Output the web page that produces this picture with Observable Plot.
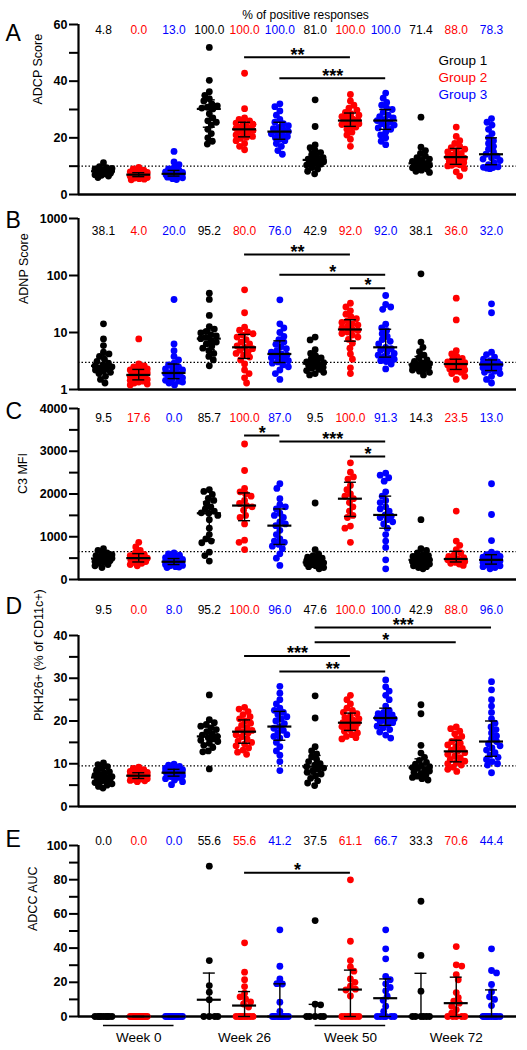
<!DOCTYPE html>
<html><head><meta charset="utf-8">
<script src="https://cdn.jsdelivr.net/npm/d3@7"></script>
<script src="https://cdn.jsdelivr.net/npm/@observablehq/plot@0.6"></script>
<style>
body{margin:0;background:#fff;}
#chart{width:527px;}
#chart svg{display:block;overflow:visible;}
</style></head><body><div id="chart"></div>
<script>
// ---------- categories ----------
const weeks = ["Week 0", "Week 26", "Week 50", "Week 72"];
const groups = ["Group 1", "Group 2", "Group 3"];
const groupColors = ["#000000", "#ff0000", "#0000ff"];
const underlinedWeeks = ["Week 0", "Week 50"];

// ---------- Panel A: ADCP Score (order: W0 G1,G2,G3, W26 G1..., W50..., W72...) ----------
const adcpValues = [
  [11.2, 9.8, 9.5, 9.2, 9.0, 8.8, 8.7, 8.5, 8.4, 8.3, 8.2, 8.1, 8.0, 7.9, 7.7, 7.5, 7.3, 7.0, 6.8, 6.5, 6.0],
  [9.6, 9.0, 8.6, 8.3, 8.0, 7.8, 7.6, 7.5, 7.3, 7.2, 7.1, 7.0, 7.0, 6.9, 6.8, 6.7, 6.6, 6.5, 6.4, 6.2, 6.0, 5.8, 5.6, 5.4, 5.2],
  [15.2, 11.5, 10.5, 9.5, 9.0, 8.5, 8.2, 8.0, 7.8, 7.6, 7.4, 7.3, 7.2, 7.0, 6.9, 6.8, 6.6, 6.5, 6.3, 6.1, 5.9, 5.6, 5.3],
  [51.9, 40.3, 36.3, 35.0, 33.8, 33.0, 32.0, 31.3, 30.8, 30.5, 30.2, 28.5, 27.0, 26.0, 25.5, 24.5, 23.0, 21.5, 20.0, 18.8, 17.8],
  [42.8, 30.3, 27.0, 26.5, 26.0, 25.8, 25.2, 24.8, 24.3, 23.8, 23.5, 23.3, 23.0, 22.6, 22.2, 21.8, 21.5, 21.0, 20.5, 20.2, 19.8, 19.0, 18.0, 17.0, 15.8],
  [32.0, 31.0, 29.5, 28.0, 26.5, 25.5, 25.0, 24.3, 23.7, 23.2, 22.7, 22.2, 21.8, 21.4, 21.0, 20.5, 20.0, 19.5, 19.0, 18.0, 17.0, 15.5, 14.2],
  [33.4, 24.0, 17.5, 16.5, 15.5, 14.8, 14.0, 13.5, 13.0, 12.5, 12.2, 12.0, 11.6, 11.2, 11.0, 10.7, 10.4, 9.5, 9.0, 8.2, 7.3],
  [35.3, 33.0, 31.5, 30.5, 29.8, 29.0, 28.5, 28.0, 27.5, 27.0, 26.6, 26.3, 26.1, 25.8, 25.5, 25.2, 25.0, 24.7, 24.3, 23.8, 23.0, 22.0, 21.0, 19.5, 17.0],
  [35.8, 34.0, 32.5, 31.5, 30.5, 30.0, 29.0, 28.0, 27.5, 27.0, 26.5, 26.1, 25.5, 25.0, 24.5, 24.0, 23.5, 23.0, 22.0, 21.0, 20.0, 18.8, 17.6],
  [27.3, 16.7, 15.5, 14.5, 13.5, 13.0, 12.5, 12.0, 11.7, 11.3, 11.0, 10.8, 10.5, 10.3, 10.1, 9.8, 9.4, 9.0, 8.6, 8.2, 7.8],
  [23.8, 20.5, 19.0, 18.0, 17.0, 16.5, 16.0, 15.5, 15.0, 14.5, 14.0, 13.6, 13.2, 12.8, 12.4, 12.0, 11.6, 11.2, 10.8, 10.5, 10.3, 10.1, 9.2, 8.0, 6.5],
  [26.8, 25.5, 24.5, 23.0, 21.5, 20.0, 19.0, 18.0, 17.0, 16.0, 15.0, 14.2, 13.5, 13.0, 12.5, 12.0, 11.2, 10.5, 9.8, 9.6, 9.5, 9.3, 9.1]
];
const adcpPct = [4.8, 0.0, 13.0, 100.0, 100.0, 100.0, 81.0, 100.0, 100.0, 71.4, 88.0, 78.3];
const adcpSig = [[4, 7, 48.4, "**"], [5, 8, 41, "***"]];
const adcpMajorTicks = [0, 20, 40, 60];
const adcpMinorTicks = [10, 30, 50];

// ---------- Panel B: ADNP Score ----------
const adnpValues = [
  [14.2, 7.7, 5.9, 4.5, 4.2, 3.8, 3.4, 3.1, 2.9, 2.7, 2.6, 2.5, 2.4, 2.3, 2.2, 2.1, 2.0, 1.9, 1.7, 1.5, 1.3],
  [7.7, 2.8, 2.6, 2.5, 2.4, 2.3, 2.2, 2.1, 2.0, 1.95, 1.9, 1.85, 1.8, 1.75, 1.7, 1.65, 1.6, 1.55, 1.5, 1.45, 1.4, 1.35, 1.3, 1.25, 1.2],
  [37.9, 6.3, 4.8, 3.8, 3.3, 2.9, 2.7, 2.5, 2.4, 2.3, 2.2, 2.1, 1.95, 1.9, 1.85, 1.8, 1.75, 1.7, 1.6, 1.5, 1.45, 1.4, 1.35, 1.3, 1.2],
  [49, 38, 19.9, 12.7, 11.5, 10.5, 9.8, 9.2, 8.7, 8.2, 7.8, 7.3, 6.8, 6.3, 5.8, 5.3, 4.8, 4.3, 3.8, 3.3, 2.6],
  [56, 22.2, 12.4, 11.0, 10.2, 9.5, 9.0, 8.3, 7.5, 6.8, 6.3, 5.8, 5.5, 5.2, 4.9, 4.6, 4.3, 4.0, 3.7, 3.3, 2.8, 2.2, 1.9, 1.6, 1.3],
  [37.4, 14.2, 12.0, 10.0, 8.5, 7.5, 6.8, 6.2, 5.6, 5.2, 4.8, 4.5, 4.2, 4.0, 3.8, 3.6, 3.4, 3.2, 3.05, 2.9, 2.7, 2.5, 2.2, 1.9, 1.5],
  [8.3, 7.4, 5.0, 4.3, 3.9, 3.6, 3.4, 3.2, 3.05, 2.95, 2.85, 2.75, 2.65, 2.55, 2.45, 2.35, 2.25, 2.15, 2.0, 1.9, 1.8],
  [32.6, 28, 24, 21, 19, 17.5, 16, 15, 14.2, 13.5, 12.8, 12.0, 11.3, 10.8, 10.2, 9.6, 9.0, 8.3, 7.6, 6.5, 5.3, 4.2, 3.4, 2.4, 1.9],
  [44.6, 31, 28, 25.5, 14, 12, 10.8, 9.5, 8.5, 7.5, 7.0, 6.3, 5.5, 5.2, 4.9, 4.6, 4.3, 4.0, 3.8, 3.6, 3.4, 3.2, 3.1, 2.8, 2.3],
  [107, 6.8, 5.5, 4.6, 4.0, 3.6, 3.3, 3.1, 2.95, 2.85, 2.75, 2.7, 2.6, 2.5, 2.45, 2.4, 2.3, 2.2, 2.1, 2.0, 1.8],
  [40, 16.6, 4.8, 4.2, 3.8, 3.5, 3.3, 3.15, 3.05, 2.95, 2.9, 2.85, 2.8, 2.75, 2.7, 2.6, 2.5, 2.4, 2.3, 2.2, 2.1, 2.0, 1.9, 1.7, 1.5],
  [31.8, 22.2, 4.5, 4.1, 3.7, 3.4, 3.2, 3.05, 2.95, 2.9, 2.85, 2.8, 2.75, 2.7, 2.6, 2.5, 2.4, 2.3, 2.2, 2.1, 2.0, 1.9, 1.7, 1.5, 1.3]
];
const adnpPct = [38.1, 4.0, 20.0, 95.2, 80.0, 76.0, 42.9, 92.0, 92.0, 38.1, 36.0, 32.0];
const adnpSig = [[4, 7, 233, "**"], [5, 8, 103, "*"], [7, 8, 60, "*"]];
const adnpMajorTicks = [1, 10, 100, 1000];
const adnpMinorTicks = [];

// ---------- Panel C: C3 MFI ----------
const c3Values = [
  [720, 680, 620, 600, 580, 560, 540, 520, 510, 500, 490, 480, 470, 460, 440, 420, 400, 380, 350, 320, 280],
  [870, 760, 680, 620, 590, 560, 530, 510, 500, 480, 460, 440, 420, 400, 380, 350, 320],
  [620, 600, 570, 540, 510, 490, 470, 450, 440, 430, 420, 415, 410, 400, 390, 380, 370, 350, 330, 320, 300, 290, 280],
  [2100, 2060, 1990, 1900, 1850, 1780, 1700, 1650, 1600, 1560, 1550, 1500, 1400, 1200, 1050, 950, 900, 860, 640, 560, 430],
  [3170, 2550, 2130, 2050, 2000, 1950, 1850, 1780, 1730, 1700, 1620, 1500, 1450, 1300, 920, 870, 700],
  [2240, 2130, 1890, 1750, 1700, 1650, 1550, 1500, 1450, 1350, 1300, 1260, 1150, 1050, 950, 900, 870, 820, 780, 720, 600, 500, 330],
  [1790, 700, 600, 560, 520, 500, 480, 460, 440, 420, 400, 390, 380, 370, 360, 350, 340, 320, 300, 280, 250],
  [2730, 2510, 2400, 2350, 2200, 2100, 2000, 1950, 1890, 1800, 1700, 1600, 1500, 1450, 1250, 1200, 870],
  [2490, 2440, 2380, 2300, 2050, 1950, 1850, 1800, 1700, 1650, 1600, 1510, 1480, 1450, 1400, 1350, 1300, 1200, 1050, 900, 750, 460, 250],
  [1400, 720, 680, 620, 580, 560, 540, 520, 500, 480, 460, 440, 420, 400, 380, 360, 340, 320, 300, 280, 250],
  [1600, 900, 800, 700, 620, 580, 540, 510, 480, 470, 460, 440, 420, 400, 380, 360, 330],
  [2240, 1520, 910, 640, 600, 580, 560, 540, 520, 500, 480, 460, 450, 440, 420, 400, 380, 360, 340, 320, 300, 280, 250]
];
const c3Pct = [9.5, 17.6, 0.0, 85.7, 100.0, 87.0, 9.5, 100.0, 91.3, 14.3, 23.5, 13.0];
const c3Sig = [[4, 5, 3368, "*"], [5, 8, 3228, "***"], [7, 8, 2877, "*"]];
const c3MajorTicks = [0, 1000, 2000, 3000, 4000];
const c3MinorTicks = [500, 1500, 2500, 3500];

// ---------- Panel D: PKH26+ (% of CD11c+) ----------
const pkhValues = [
  [10.2, 9.8, 9.3, 8.9, 8.5, 8.1, 7.8, 7.5, 7.3, 7.0, 6.8, 6.6, 6.4, 6.2, 6.0, 5.8, 5.6, 5.3, 5.0, 4.7, 4.3],
  [9.2, 8.9, 8.6, 8.4, 8.2, 8.0, 7.8, 7.6, 7.5, 7.4, 7.3, 7.3, 7.2, 7.1, 7.0, 6.9, 6.8, 6.7, 6.6, 6.5, 6.4, 6.3, 6.1, 6.0, 5.8],
  [9.9, 9.7, 9.4, 9.2, 9.0, 8.8, 8.6, 8.5, 8.4, 8.3, 8.2, 8.0, 7.9, 7.8, 7.7, 7.6, 7.5, 7.4, 7.2, 7.0, 6.8, 6.5, 6.2, 5.8, 5.1],
  [26.1, 20.3, 19.6, 19.2, 18.8, 18.4, 18.0, 17.5, 17.0, 16.7, 16.4, 16.1, 15.8, 15.5, 15.2, 14.8, 14.3, 13.8, 13.0, 12.8, 8.8],
  [23.2, 22.8, 22.2, 21.5, 21.0, 20.5, 20.0, 19.5, 19.0, 18.5, 18.0, 17.8, 17.5, 17.2, 16.8, 16.3, 15.8, 15.3, 15.0, 14.6, 14.2, 13.7, 13.2, 12.7, 12.2],
  [28.1, 26.5, 25.0, 24.0, 23.0, 22.5, 22.0, 21.5, 21.0, 20.5, 20.0, 19.4, 18.7, 18.3, 17.8, 17.3, 16.8, 16.4, 16.0, 15.0, 14.0, 13.0, 12.0, 10.5, 8.4],
  [25.9, 20.7, 14.0, 13.0, 12.3, 11.6, 11.0, 10.5, 10.0, 9.7, 9.3, 9.0, 8.7, 8.3, 8.0, 7.6, 7.2, 6.6, 6.0, 5.5, 4.9],
  [26.0, 25.0, 24.0, 23.0, 22.5, 22.0, 21.7, 21.2, 20.8, 20.5, 20.2, 19.9, 19.6, 19.4, 19.2, 19.0, 18.7, 18.4, 18.0, 17.6, 17.2, 16.8, 16.4, 16.1, 15.8],
  [29.6, 28.0, 27.0, 26.0, 25.0, 23.5, 22.5, 22.0, 21.7, 21.4, 21.2, 21.0, 20.7, 20.5, 20.3, 20.1, 19.9, 19.6, 19.2, 18.8, 18.4, 18.0, 17.4, 16.7, 16.0],
  [23.8, 21.7, 14.3, 12.5, 11.5, 10.8, 10.3, 9.9, 9.6, 9.3, 9.1, 8.9, 8.6, 8.3, 8.0, 7.7, 7.4, 7.1, 6.8, 6.5, 6.2],
  [18.6, 18.2, 17.6, 17.0, 16.4, 15.8, 15.2, 14.8, 14.4, 14.0, 13.6, 13.2, 12.9, 12.6, 12.2, 11.8, 11.4, 11.0, 10.6, 10.3, 10.0, 9.7, 9.2, 8.7, 8.2],
  [29.2, 27.3, 25.0, 23.5, 22.0, 20.5, 19.5, 18.6, 18.0, 17.2, 16.5, 15.8, 15.2, 14.7, 14.2, 13.7, 13.2, 12.6, 12.0, 11.5, 11.0, 10.5, 10.0, 9.7, 7.9]
];
const pkhPct = [9.5, 0.0, 8.0, 95.2, 100.0, 96.0, 47.6, 100.0, 100.0, 42.9, 88.0, 96.0];
const pkhSig = [[6, 11, 41.9, "***"], [6, 10, 38.4, "*"], [4, 7, 35.2, "***"], [5, 8, 31.6, "**"]];
const pkhMajorTicks = [0, 10, 20, 30, 40];
const pkhMinorTicks = [5, 15, 25, 35];

// ---------- Panel E: ADCC AUC ----------
const adccValues = [
  [0, 0, 0, 0, 0, 0, 0, 0, 0],
  [0, 0, 0, 0, 0, 0, 0, 0, 0, 0, 0, 0, 0, 0, 0, 0, 0, 0],
  [0, 0, 0, 0, 0, 0, 0, 0, 0, 0, 0, 0, 0, 0, 0, 0, 0],
  [87.9, 32.7, 18.1, 14.2, 9.8, 0, 0, 0, 0],
  [43.1, 25.9, 21.5, 17.5, 13.6, 11.5, 10.3, 8.5, 7.3, 5.5, 0, 0, 0, 0, 0, 0, 0, 0],
  [50.7, 29.4, 22, 19.2, 19.0, 8.4, 3, 0, 0, 0, 0, 0, 0, 0, 0, 0, 0],
  [56.1, 7.2, 6.8, 0, 0, 0, 0, 0],
  [79.9, 44, 32.7, 29, 26.5, 22, 20, 17.7, 16, 15.5, 12, 0, 0, 0, 0, 0, 0, 0],
  [50.7, 39.6, 33.7, 23.4, 21.5, 19.1, 17, 15, 11.9, 9.5, 6, 3, 0, 0, 0, 0, 0, 0],
  [67.4, 35.7, 14.8, 0, 0, 0, 0, 0, 0],
  [40.9, 30.2, 29.5, 24.5, 21.5, 14, 11, 9, 7.8, 6, 4, 2, 0, 0, 0, 0, 0],
  [39.6, 26.9, 25.5, 18.7, 14.5, 11.5, 10, 6.4, 0, 0, 0, 0, 0, 0, 0, 0, 0, 0]
];
const adccPct = [0.0, 0.0, 0.0, 55.6, 55.6, 41.2, 37.5, 61.1, 66.7, 33.3, 70.6, 44.4];
const adccSig = [[4, 7, 84, "*"]];
const adccMajorTicks = [0, 20, 40, 60, 80, 100];
const adccMinorTicks = [10, 30, 50, 70, 90];

// ---------- layout ----------
const W = 527, marginLeft = 78, marginRight = 11;
const xDomain = [-0.708, 11.708];
const unitPerPx = (xDomain[1] - xDomain[0]) / (W - marginLeft - marginRight);
const FONT = "'Liberation Sans', Arial, Helvetica, sans-serif";
const fmtPct = d3.format(".1f");
const fmtTick = d3.format("d");

// GraphPad-style quantile ((n+1)p)
function gpQuantile(s, p) {
  const n = s.length, h = (n + 1) * p;
  if (h <= 1) return s[0];
  if (h >= n) return s[n - 1];
  const lo = Math.floor(h);
  return s[lo - 1] + (h - lo) * (s[lo] - s[lo - 1]);
}

// column scatter layout (horizontal spread so dots do not overlap too much)
function swarmOffsets(vals, ypx, maxHalf, minDist) {
  const idx = d3.range(vals.length).sort((a, b) => ypx(vals[a]) - ypx(vals[b]));
  const placed = [];
  const off = new Array(vals.length).fill(0);
  let flip = 1;
  for (const i of idx) {
    const y = ypx(vals[i]);
    const cands = [0];
    for (let d = 0.5; d <= maxHalf + 1e-9; d += 0.5) cands.push(flip * d, -flip * d);
    flip = -flip;
    let chosen = null, fallback = 0, bestScore = -Infinity;
    for (const c of cands) {
      let mind = Infinity;
      for (const p of placed) {
        const dd = Math.hypot(p.x - c, p.y - y);
        if (dd < mind) mind = dd;
      }
      if (mind >= minDist) { chosen = c; break; }
      if (mind > bestScore + 1e-9) { bestScore = mind; fallback = c; }
    }
    if (chosen === null) chosen = fallback;
    placed.push({x: chosen, y});
    off[i] = chosen;
  }
  return off;
}

const panels = [
  {key: "A", label: "ADCP Score", values: adcpValues, pct: adcpPct, sig: adcpSig, major: adcpMajorTicks, minor: adcpMinorTicks,
   yType: "linear", yDomain: [0, 60], threshold: 10, height: 205, marginTop: 24, marginBottom: 11,
   letterDy: 0.5, pctDy: 1, labelDx: -41, labelDy: -5},
  {key: "B", label: "ADNP Score", values: adnpValues, pct: adnpPct, sig: adnpSig, major: adnpMajorTicks, minor: adnpMinorTicks,
   yType: "log", yDomain: [1, 1000], threshold: 3, height: 190, marginTop: 13, marginBottom: 6,
   letterDy: -7, pctDy: 8.3, labelDx: -55, labelDy: 0},
  {key: "C", label: "C3 MFI", values: c3Values, pct: c3Pct, sig: c3Sig, major: c3MajorTicks, minor: c3MinorTicks,
   yType: "linear", yDomain: [0, 4000], threshold: 650, height: 195, marginTop: 13, marginBottom: 11,
   letterDy: -5.5, pctDy: 5, labelDx: -56, labelDy: 0},
  {key: "D", label: "PKH26+ (% of CD11c+)", values: pkhValues, pct: pkhPct, sig: pkhSig, major: pkhMajorTicks, minor: pkhMinorTicks,
   yType: "linear", yDomain: [0, 40], threshold: 9.5, height: 225, marginTop: 45, marginBottom: 9,
   letterDy: -37.5, pctDy: -30.5, labelDx: -40, labelDy: 0},
  {key: "E", label: "ADCC AUC", values: adccValues, pct: adccPct, sig: adccSig, major: adccMajorTicks, minor: adccMinorTicks,
   yType: "linear", yDomain: [0, 100], threshold: null, height: 235, marginTop: 30, marginBottom: 34,
   letterDy: -14.5, pctDy: -8.8, labelDx: -46, labelDy: 0}
];

const chart = document.getElementById("chart");

panels.forEach((cfg, pi) => {
  const yScale = Plot.scale({y: {type: cfg.yType, domain: cfg.yDomain,
    range: [cfg.height - cfg.marginBottom, cfg.marginTop]}});
  const points = [], stats = [];
  cfg.values.forEach((vals, col) => {
    const g = col % 3;
    const offs = swarmOffsets(vals, v => yScale.apply(v), 8.5, 5.5);
    vals.forEach((v, i) => points.push({x: col + offs[i] * unitPerPx, v, color: groupColors[g]}));
    const s = vals.slice().sort(d3.ascending);
    stats.push({col, median: gpQuantile(s, 0.5), q1: gpQuantile(s, 0.25), q3: gpQuantile(s, 0.75)});
  });
  const pctRows = cfg.pct.map((p, col) => ({col, text: fmtPct(p), color: groupColors[col % 3]}));
  const sigRows = cfg.sig.map(([from, to, y, stars]) => ({from, to, y, stars}));
  const medHalf = 12 * unitPerPx, capHalf = 6 * unitPerPx;
  const base = cfg.yDomain[0];

  const marks = [];
  if (cfg.threshold != null) marks.push(Plot.ruleY([cfg.threshold], {stroke: "#000", strokeWidth: 1.3, strokeDasharray: "1.5 2"}));
  marks.push(
    Plot.ruleX([xDomain[0]], {stroke: "#000", strokeWidth: 2.2}),
    Plot.ruleY([base], {stroke: "#000", strokeWidth: 2.5}),
    Plot.dot(points, {x: "x", y: "v", r: 3.4, fill: "color", stroke: null}),
    Plot.ruleX(stats, {x: "col", y1: "q1", y2: "q3", stroke: "#000", strokeWidth: 1.4}),
    Plot.ruleY(stats, {y: "q1", x1: d => d.col - capHalf, x2: d => d.col + capHalf, stroke: "#000", strokeWidth: 1.4}),
    Plot.ruleY(stats, {y: "q3", x1: d => d.col - capHalf, x2: d => d.col + capHalf, stroke: "#000", strokeWidth: 1.4}),
    Plot.ruleY(stats, {y: "median", x1: d => d.col - medHalf, x2: d => d.col + medHalf, stroke: "#000", strokeWidth: 2.2}),
    Plot.ruleY(sigRows, {y: "y", x1: "from", x2: "to", stroke: "#000", strokeWidth: 2}),
    Plot.text(sigRows, {x: d => (d.from + d.to) / 2, y: "y", text: "stars", dy: -2.5, fontSize: 18, fontWeight: "bold", fill: "#000"}),
    Plot.text(pctRows, {x: "col", frameAnchor: "top", dy: cfg.pctDy, text: "text", fill: "color", fontSize: 12}),
    Plot.text([cfg.key], {frameAnchor: "top-left", dx: -73, dy: cfg.letterDy, textAnchor: "start", fontSize: 23, fill: "#000"}),
    Plot.text([cfg.label], {frameAnchor: "left", dx: cfg.labelDx, dy: cfg.labelDy, rotate: -90, fontSize: 12.5, fill: "#000"}),
    Plot.axisY({ticks: cfg.major, tickSize: 9, tickFormat: () => "", strokeWidth: 2, label: null}),
    Plot.axisY({ticks: cfg.minor, tickSize: 9, tickFormat: () => "", strokeWidth: 2, label: null}),
    Plot.text(cfg.major, {y: d => d, frameAnchor: "left", dx: -11, textAnchor: "end", text: d => fmtTick(d),
      fontSize: 12.5, fontWeight: "bold", fill: "#000"})
  );
  if (pi === 0) {
    marks.push(Plot.text(["% of positive responses"], {frameAnchor: "top", dx: 8, dy: -14, fontSize: 12, fill: "#000"}));
    groups.forEach((g, gi) => {
      marks.push(Plot.text([g], {frameAnchor: "top-left", dx: 360, dy: 31 + 17 * gi, textAnchor: "start", fontSize: 13.5, fill: groupColors[gi]}));
    });
  }
  if (pi === panels.length - 1) {
    const weekRows = weeks.map((w, i) => ({w, mid: 3 * i + 1, first: 3 * i, last: 3 * i + 2}));
    marks.push(
      Plot.text(weekRows, {x: "mid", y: () => base, dy: 21, text: "w", fontSize: 13.5, fill: "#000"}),
      Plot.ruleY(weekRows.filter(d => underlinedWeeks.includes(d.w)), {y: () => base, dy: 9, x1: "first", x2: "last", stroke: "#000", strokeWidth: 1.5})
    );
  }

  const svg = Plot.plot({
    width: W, height: cfg.height,
    marginLeft, marginRight, marginTop: cfg.marginTop, marginBottom: cfg.marginBottom,
    x: {domain: xDomain, axis: null},
    y: {type: cfg.yType, domain: cfg.yDomain, axis: null},
    color: {type: "identity"},
    style: {fontFamily: FONT, background: "white", color: "#000", overflow: "visible"},
    marks
  });
  chart.appendChild(svg);
});
</script>
</body></html>
